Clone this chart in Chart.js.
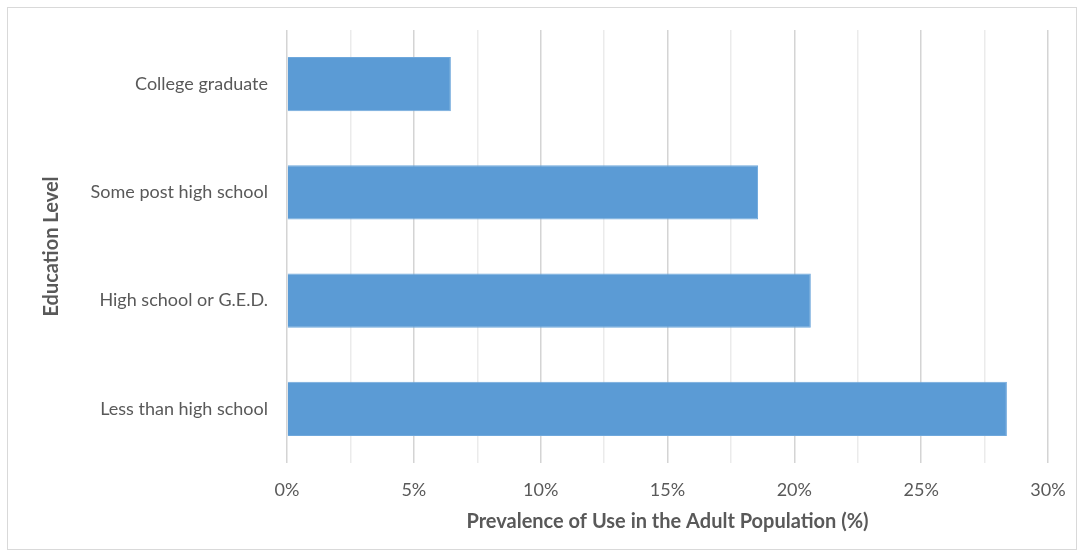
<!DOCTYPE html>
<html>
<head>
<meta charset="utf-8">
<script src="https://cdn.jsdelivr.net/npm/chart.js@4"></script>
<style>
  body { margin: 0; background: #fff; }
  #frame { position: absolute; left: 7px; top: 7px; width: 1068px; height: 541px; border: 1px solid #d9d9d9; }
  canvas { position: absolute; left: 0; top: 0; }
</style>
</head>
<body>
<div id="frame"></div>
<canvas id="barChart" width="1079" height="556"></canvas>
<script>
// Education levels and prevalence (%)
const educationLevels = ['College graduate', 'Some post high school', 'High school or G.E.D.', 'Less than high school'];
const prevalence = [6.46, 18.57, 20.65, 28.38];
const xTickValues = [0, 5, 10, 15, 20, 25, 30];

const textColor = '#595959';
const fontFamily = 'Lato, "Open Sans", sans-serif';

// Function to create the horizontal bar chart
function createBarChart() {
    const ctx = document.getElementById('barChart').getContext('2d');
    new Chart(ctx, {
        type: 'bar',
        data: {
            labels: educationLevels,
            datasets: [{
                label: 'Prevalence',
                data: prevalence,
                backgroundColor: '#5b9bd5',
                borderColor: '#6fa8dc',
                borderWidth: 1,
                barPercentage: 0.5,
                categoryPercentage: 1.0
            }]
        },
        options: {
            indexAxis: 'y',
            responsive: false,
            animation: false,
            layout: { padding: { top: 30, right: 31, left: 0, bottom: 0 } },
            plugins: {
                legend: { display: false },
                tooltip: { enabled: false }
            },
            scales: {
                x: {
                    min: 0,
                    max: 30,
                    afterFit: scale => {
                        scale.height = 93;
                        scale.paddingLeft = 0;
                        scale.paddingRight = 0;
                    },
                    afterBuildTicks: scale => {
                        const t = [];
                        xTickValues.forEach((v, i) => {
                            t.push({ value: v });
                            if (i < xTickValues.length - 1) t.push({ value: v + 2.5 });
                        });
                        scale.ticks = t;
                    },
                    ticks: {
                        padding: 16,
                        color: textColor,
                        font: { family: fontFamily, size: 18 },
                        callback: v => (xTickValues.includes(v) ? v + '%' : '')
                    },
                    grid: {
                        drawTicks: false,
                        color: c => (c.tick && xTickValues.includes(c.tick.value) ? '#d4d4d4' : '#ebebeb'),
                        lineWidth: 1.5
                    },
                    border: { display: false },
                    title: {
                        display: true,
                        text: 'Prevalence of Use in the Adult Population (%)',
                        color: textColor,
                        font: { family: fontFamily, size: 20, weight: 'bold' },
                        padding: { top: 0, bottom: 22 }
                    }
                },
                y: {
                    afterFit: scale => { scale.width = 287; },
                    ticks: {
                        padding: 11,
                        color: textColor,
                        font: { family: fontFamily, size: 18 }
                    },
                    grid: { display: false },
                    border: { display: false },
                    title: {
                        display: true,
                        text: 'Education Level',
                        color: textColor,
                        font: { family: fontFamily, size: 20, weight: 'bold' },
                        padding: { top: 40, bottom: 0 }
                    }
                }
            }
        }
    });
}

window.onload = function () {
    createBarChart();
};
</script>
</body>
</html>
